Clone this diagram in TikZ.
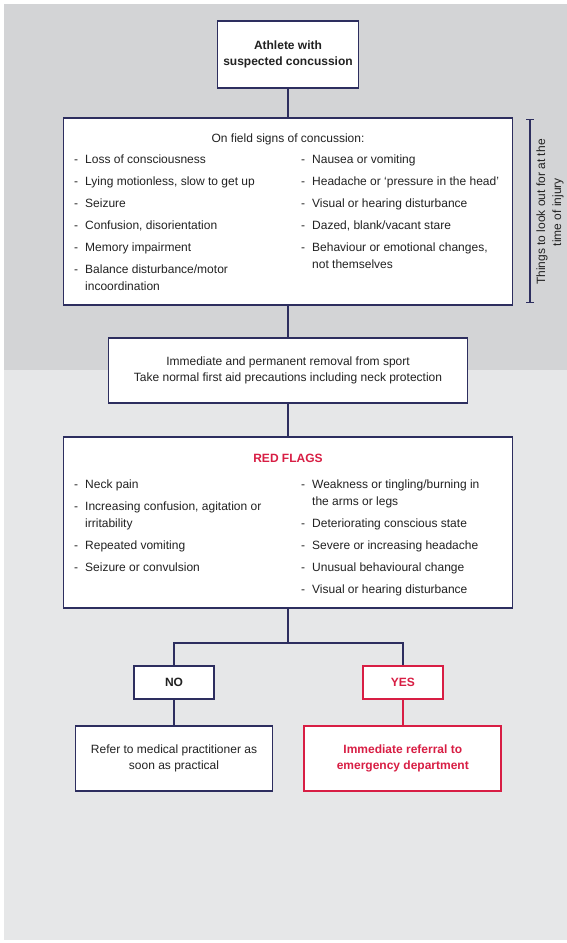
\documentclass[tikz,border=0pt]{standalone}
\usepackage{fontspec}
\setmainfont{Liberation Sans}
\usetikzlibrary{arrows.meta}
\usetikzlibrary{positioning}

\definecolor{navy}{HTML}{2D2E5F}
\definecolor{flagred}{HTML}{D81E44}
\definecolor{ink}{HTML}{222222}
\definecolor{bgtop}{HTML}{D3D4D6}
\definecolor{bgbottom}{HTML}{E6E7E8}

\newcommand{\dashlist}[1]{\begin{tabular}[t]{@{}l@{\hspace{7pt}}p{195pt}@{}}#1\end{tabular}}

\begin{document}
\begin{tikzpicture}[x=1pt,y=-1pt,
  every node/.style={font=\fontsize{12}{16.5}\selectfont,text=ink},
  box/.style={draw=navy,line width=1.8pt,fill=white,inner sep=0pt,align=center},
  redbox/.style={box,draw=flagred,text=flagred},
  list/.style={anchor=base west,inner sep=0pt,font=\fontsize{12}{17}\selectfont},
  link/.style={navy,line width=1.8pt}]
  \useasboundingbox (0,0) rectangle (567,943);
  \fill[bgtop] (4,4) rectangle (567,370);
  \fill[bgbottom] (4,370) rectangle (567,940);

  \node (athlete) at (288,54.5) [box,minimum width=141pt,minimum height=67pt,font=\fontsize{12}{16}\selectfont\bfseries]{Athlete with\\suspected concussion};

  \node (signs) at (288,211.5) [box,minimum width=449pt,minimum height=187pt]{};
  \node (signstitle) at (288,142) [anchor=base,inner sep=0pt]{On field signs of concussion:};
  \node (signsleft) at (74,163) [list]{\dashlist{
    - & Loss of consciousness\\[5pt]
    - & Lying motionless, slow to get up\\[5pt]
    - & Seizure\\[5pt]
    - & Confusion, disorientation\\[5pt]
    - & Memory impairment\\[5pt]
    - & Balance disturbance/motor\newline incoordination}};
  \node (signsright) at (301,163) [list]{\dashlist{
    - & Nausea or vomiting\\[5pt]
    - & Headache or ‘pressure in the head’\\[5pt]
    - & Visual or hearing disturbance\\[5pt]
    - & Dazed, blank/vacant stare\\[5pt]
    - & Behaviour or emotional changes,\newline not themselves}};

  \coordinate (bracketTop) at (530,119);
  \coordinate (bracketBottom) at (530,303);
  \draw[link,line width=1.3pt,{Bar[width=8pt]}-{Bar[width=8pt]}] (bracketTop) -- (bracketBottom);
  \node (injury) at (550,212) [rotate=90,align=center,font=\fontsize{12}{16}\selectfont]{Things to look out for at the\\time of injury};

  \node (removal) at (288,370.5) [box,minimum width=359pt,minimum height=65pt]{Immediate and permanent removal from sport\\Take normal first aid precautions including neck protection};

  \node (flags) at (288,522.5) [box,minimum width=449pt,minimum height=171pt]{};
  \node (flagstitle) at (288,462) [anchor=base,inner sep=0pt,text=flagred,font=\fontsize{12}{16}\selectfont\bfseries]{RED FLAGS};
  \node (flagsleft) at (74,488) [list]{\dashlist{
    - & Neck pain\\[5pt]
    - & Increasing confusion, agitation or\newline irritability\\[5pt]
    - & Repeated vomiting\\[5pt]
    - & Seizure or convulsion}};
  \node (flagsright) at (301,488) [list]{\dashlist{
    - & Weakness or tingling/burning in\newline the arms or legs\\[5pt]
    - & Deteriorating conscious state\\[5pt]
    - & Severe or increasing headache\\[5pt]
    - & Unusual behavioural change\\[5pt]
    - & Visual or hearing disturbance}};

  \coordinate (split) at (288,643);
  \node (no) at (174,682.5) [box,minimum width=80pt,minimum height=33pt,font=\fontsize{12}{16}\selectfont\bfseries]{NO};
  \node[right=147pt of no] (yes) [redbox,minimum width=80pt,minimum height=33pt,font=\fontsize{12}{16}\selectfont\bfseries]{YES};
  \node[below=25pt of no] (refer) [box,minimum width=197pt,minimum height=65pt]{Refer to medical practitioner as\\soon as practical};
  \node[below=25pt of yes] (emergency) [redbox,minimum width=197pt,minimum height=65pt,font=\fontsize{12}{16.5}\selectfont\bfseries]{Immediate referral to\\emergency department};

  \draw[link](athlete)--(signs);
  \draw[link](signs)--(removal);
  \draw[link](removal)--(flags);
  \draw[link](flags)--(split)-|(no);
  \draw[link](split)-|(yes);
  \draw[link](no)--(refer);
  \draw[link,flagred](yes)--(emergency);
\end{tikzpicture}
\end{document}
